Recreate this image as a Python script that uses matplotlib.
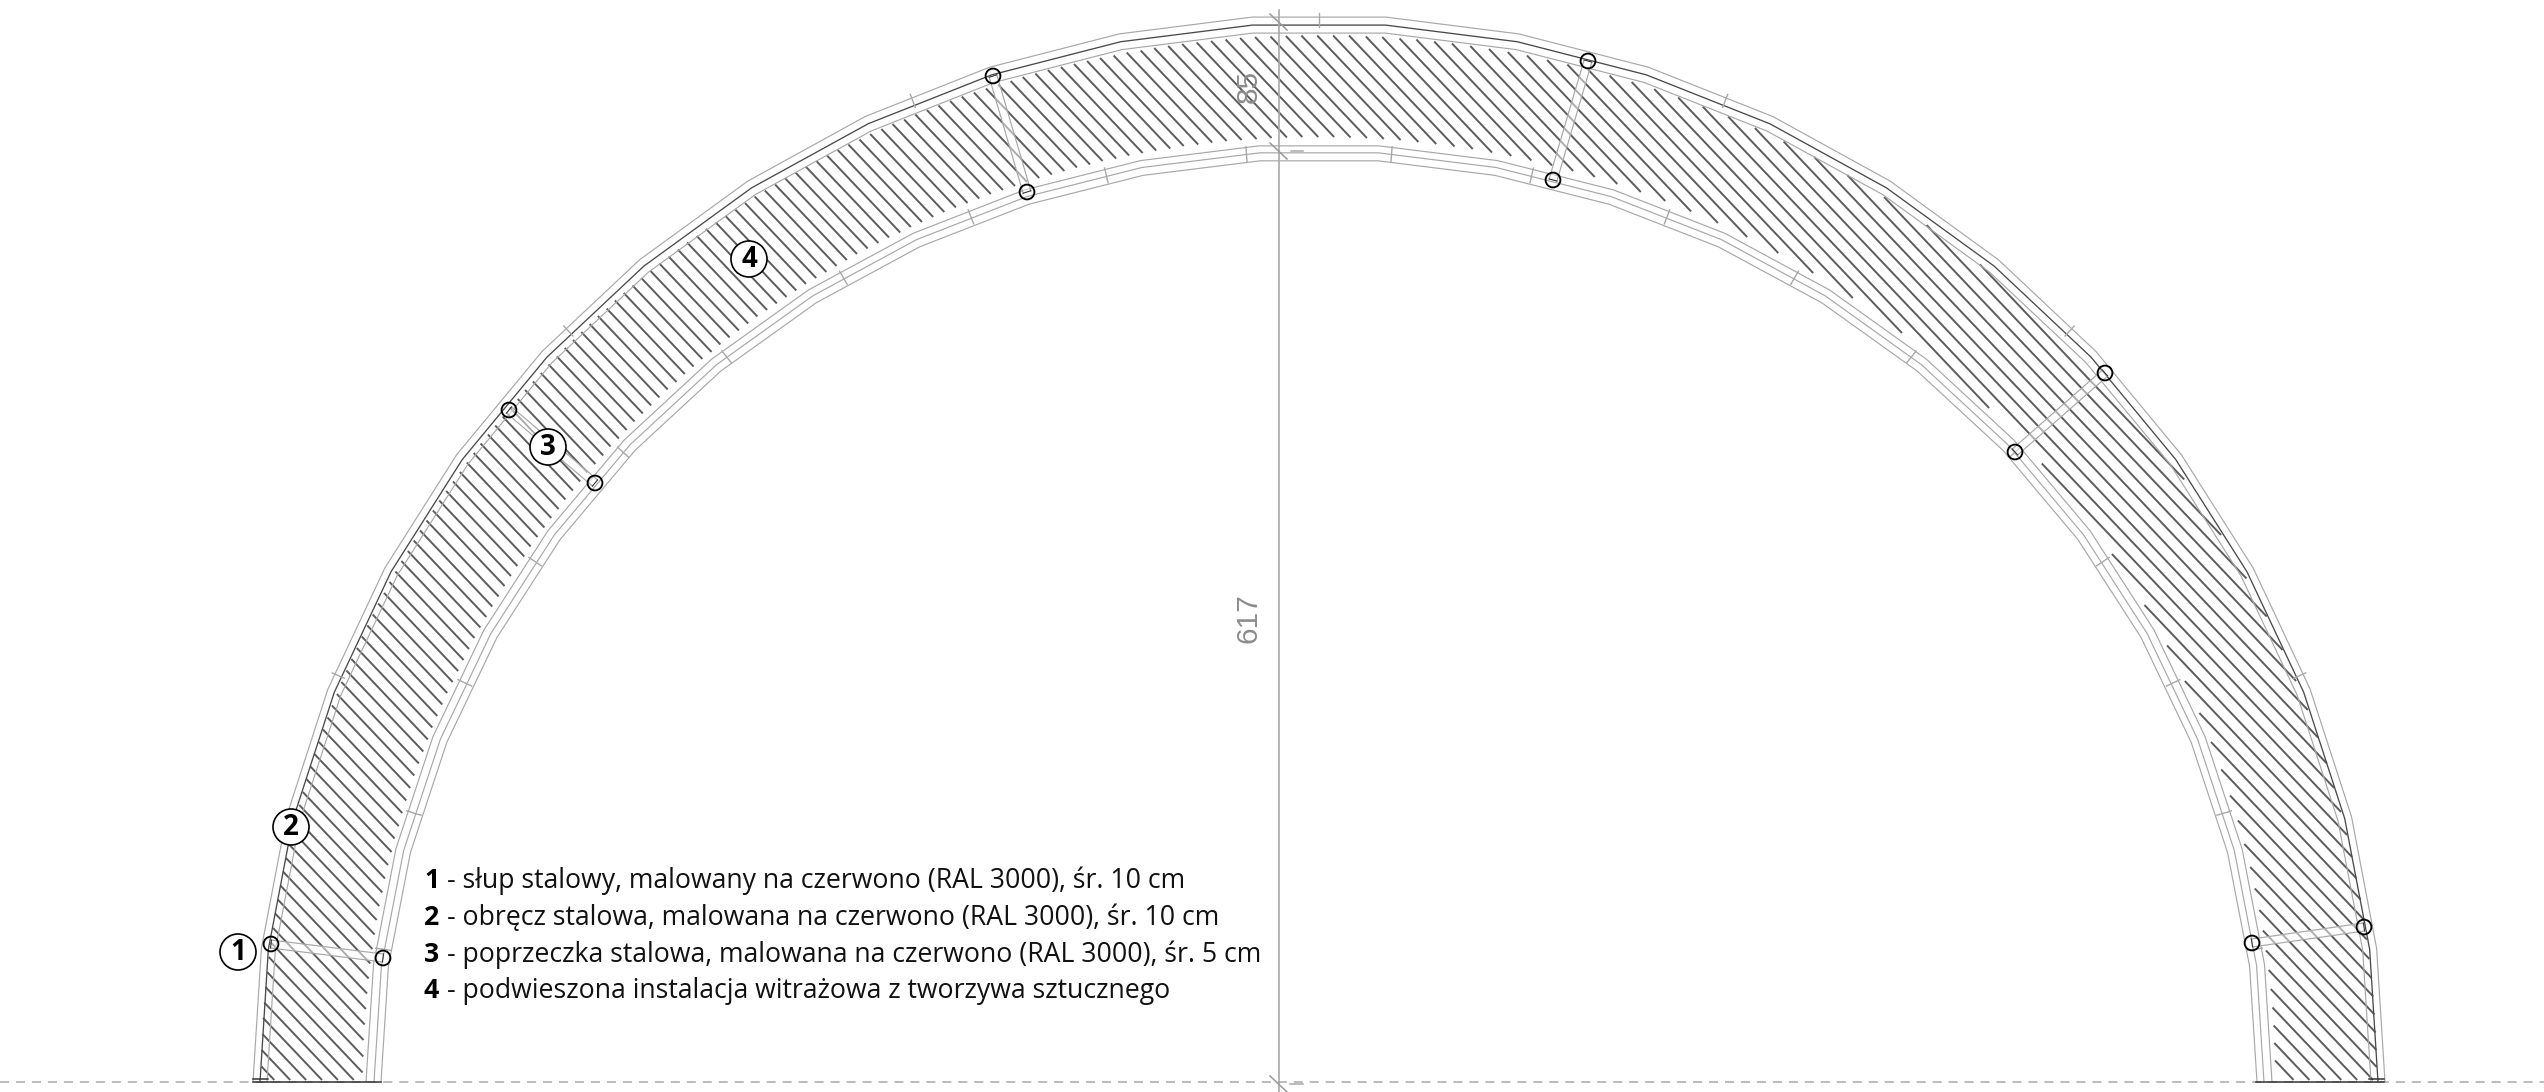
import numpy as np
import matplotlib
matplotlib.use("Agg")
import matplotlib.pyplot as plt
from matplotlib.patches import Circle

plt.rcParams['lines.scale_dashes'] = False
W, H = 2544, 1092
CX, CY = 1319, 1082

# polygon vertex angles of the arch, degrees from vertical
vertex_angles = [-90, -82.8, -75.6, -68.4, -61.2, -54, -46.8, -39.6, -32.4, -25.2, -18, -10.8, -3.6,
                 3.6, 10.8, 18, 25.2, 32.4, 39.6, 46.8, 54, 61.2, 68.4, 75.6, 82.8, 90]
# ring semi-axes (horizontal, vertical)
outer_ring_a = [1066, 1059, 1052]
outer_ring_b = [1067, 1059, 1051]
inner_ring_a = [953, 945, 938]
inner_ring_b = [938, 931, 923]
# hatch field
hatch_outer = (1058, 1047)
hatch_inner = (956, 945)
# ticks across the rings
outer_ticks = [-67.5, -45, -22.5, 0, 22.5, 45, 67.5]
inner_ticks = [-81.8, -73.2, -64.6, -56, -47.4, -38.8, -30.2, -21.6, -13, -4.4,
               4.4, 13, 21.6, 30.2, 38.8, 47.4, 56, 64.6, 73.2, 81.8]
# cross-bars: outer node x, y, inner node x, y
bars_x0 = [271, 509, 993, 1588, 2105, 2364]
bars_y0 = [944, 410, 76, 61, 373, 927]
bars_x1 = [383, 595, 1027, 1553, 2015, 2252]
bars_y1 = [958, 483, 192, 180, 452, 943]
# numbered callouts
callout_x = [238, 291, 548, 749]
callout_y = [952, 827, 447, 259]
callout_txt = ['1', '2', '3', '4']
# legend
legend_num = ['1', '2', '3', '4']
legend_txt = ['- słup stalowy, malowany na czerwono (RAL 3000), śr. 10 cm',
              '- obręcz stalowa, malowana na czerwono (RAL 3000), śr. 10 cm',
              '- poprzeczka stalowa, malowana na czerwono (RAL 3000), śr. 5 cm',
              '- podwieszona instalacja witrażowa z tworzywa sztucznego']
legend_y = [888, 925, 962, 998]
# dimensions
dim_x = 1279
dim_labels = ['85', '617']
dim_label_y = [86, 618]
dim_slash_y = [22, 151, 1084]

GRAY = '#a8a8a8'
DARK = '#4a4a4a'

fig = plt.figure(figsize=(W / 100, H / 100), dpi=100, facecolor='white')
ax = fig.add_axes([0, 0, 1, 1])
ax.set_xlim(0, W)
ax.set_ylim(H, 0)
ax.axis('off')


def on_ring(theta, a, b):
    t = np.radians(theta)
    return CX + a * np.sin(t), CY - b * np.cos(t)


# hatch
k = 0.95
ys = np.linspace(0, 1080, 2161)
for x0 in np.arange(-995.8, 3600, 15.9):
    xs = x0 + (ys - CY) * k
    ro = ((xs - CX) / hatch_outer[0]) ** 2 + ((ys - CY) / hatch_outer[1]) ** 2
    ri = ((xs - CX) / hatch_inner[0]) ** 2 + ((ys - CY) / hatch_inner[1]) ** 2
    m = (ro <= 1) & (ri >= 1)
    if not m.any():
        continue
    idx = np.where(m)[0]
    for seg in np.split(idx, np.where(np.diff(idx) > 1)[0] + 1):
        if len(seg) > 6:
            ax.plot(xs[seg], ys[seg], color='#5c5c5c', lw=1.4, solid_capstyle='butt', zorder=1)

# rings
for i, (a, b) in enumerate(zip(outer_ring_a, outer_ring_b)):
    x, y = on_ring(np.array(vertex_angles), a, b)
    ax.plot(x, y, color=DARK if i == 1 else GRAY, lw=0.95 if i == 1 else 0.85, zorder=2)
for a, b in zip(inner_ring_a, inner_ring_b):
    x, y = on_ring(np.array(vertex_angles), a, b)
    ax.plot(x, y, color=GRAY, lw=0.85, zorder=2)

# ticks
for t in outer_ticks:
    x0, y0 = on_ring(t, outer_ring_a[0] + 2, outer_ring_b[0] + 2)
    x1, y1 = on_ring(t, outer_ring_a[1] - 4, outer_ring_b[1] - 4)
    ax.plot([x0, x1], [y0, y1], color=GRAY, lw=1.0, zorder=2)
for t in inner_ticks:
    x0, y0 = on_ring(t, inner_ring_a[0], inner_ring_b[0])
    x1, y1 = on_ring(t, inner_ring_a[2], inner_ring_b[2])
    ax.plot([x0, x1], [y0, y1], color=GRAY, lw=1.0, zorder=2)

# cross-bars and nodes
for xa, ya, xb, yb in zip(bars_x0, bars_y0, bars_x1, bars_y1):
    d = np.array([xb - xa, yb - ya], float)
    n = np.array([-d[1], d[0]]) / np.hypot(*d)
    ax.fill([xa + 4 * n[0], xb + 4 * n[0], xb - 4 * n[0], xa - 4 * n[0]],
            [ya + 4 * n[1], yb + 4 * n[1], yb - 4 * n[1], ya - 4 * n[1]],
            color='white', alpha=0.5, lw=0, zorder=2.5)
    for s in (-4, 4):
        ax.plot([xa + s * n[0], xb + s * n[0]], [ya + s * n[1], yb + s * n[1]],
                color=GRAY, lw=0.85, zorder=3)
    for px, py in ((xa, ya), (xb, yb)):
        ax.add_patch(Circle((px, py), 7.4, fc='none', ec='black', lw=1.35, zorder=5))
        rx, ry = px - CX, py - CY
        tn = np.array([ry, -rx]) / np.hypot(rx, ry)
        ax.plot([px - 4 * tn[0], px + 4 * tn[0]], [py - 4 * tn[1], py + 4 * tn[1]],
                color='#333333', lw=0.8, zorder=5)

# base plates
ax.plot([253, 381], [1081.5, 1081.5], color='#333333', lw=1.1, zorder=4)
ax.plot([253, 268], [1078.5, 1078.5], color='#333333', lw=1.1, zorder=4)
ax.plot([2256, 2384], [1081.5, 1081.5], color='#333333', lw=1.1, zorder=4)
ax.plot([2369, 2384], [1078.5, 1078.5], color='#333333', lw=1.1, zorder=4)

# ground dashed line
ax.plot([0, W], [1082, 1082], color=GRAY, lw=1.1, linestyle=(0, (6.5, 5.0)), zorder=0.5)

# dimension line
ax.plot([dim_x, dim_x], [10, H], color=GRAY, lw=1.2, zorder=3)
for sy in dim_slash_y:
    ax.plot([dim_x - 9, dim_x + 8], [sy - 8, sy + 8], color='#999999', lw=1.1, zorder=3)
ax.plot([1291, 1303], [151, 151], color=GRAY, lw=1.1, zorder=3)
ax.plot([1290, 1303], [1084, 1084], color=GRAY, lw=1.1, zorder=3)
for s, yy in zip(dim_labels, dim_label_y):
    ax.text(1249, yy, s, rotation=90, ha='center', va='center', color='#8c8c8c',
            fontsize=21.5, family='Liberation Sans', zorder=4)

# callouts
for x, y, s in zip(callout_x, callout_y, callout_txt):
    ax.add_patch(Circle((x, y), 18, fc='white', ec='black', lw=1.2, zorder=6))
    ax.text(x, y + 0.5, s, ha='center', va='center', fontsize=20, fontweight='bold',
            family='Open Sans', color='black', zorder=7)

# legend
renderer = fig.canvas.get_renderer()
for n, s, y in zip(legend_num, legend_txt, legend_y):
    t = ax.text(424, y, n, ha='left', va='baseline', fontsize=19.2, fontweight='bold',
                family='Open Sans', color='black', zorder=7)
    x_end = t.get_window_extent(renderer).x1
    ax.text(x_end + 8, y, s, ha='left', va='baseline', fontsize=19.2,
            family='Open Sans', color='#111111', zorder=7)

fig.savefig('out.png', dpi=100, facecolor='white')
